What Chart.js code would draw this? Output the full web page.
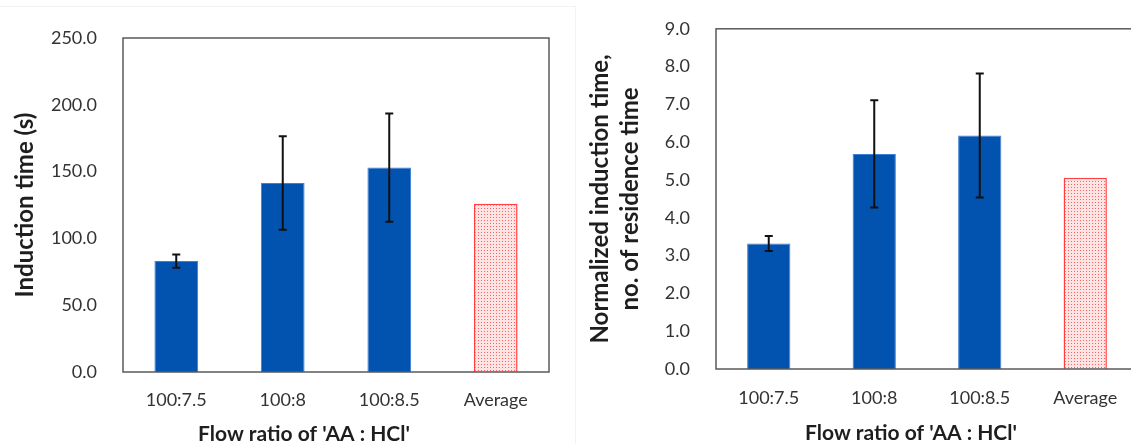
<!DOCTYPE html>
<html>
<head>
<meta charset="utf-8">
<script src="https://cdn.jsdelivr.net/npm/chart.js@4"></script>
<style>
  html, body { margin: 0; padding: 0; background: #fff; }
  body { width: 1131px; height: 444px; position: relative; overflow: hidden; }
  #painelA { position: absolute; left: 0; top: 6px; width: 575px; height: 438px;
             border-top: 1px solid #f3f3f3; border-right: 1px solid #f3f3f3; }
  #graficoA { position: absolute; left: 0; top: 0; }
  #graficoB { position: absolute; left: 575px; top: 0; }
</style>
</head>
<body>
<div id="painelA"></div>
<canvas id="graficoA" width="575" height="444"></canvas>
<canvas id="graficoB" width="570" height="444"></canvas>
<script>
const categorias = ['100:7.5', '100:8', '100:8.5', 'Average'];

// induction time (s) and standard deviation
const tempoInducao = [83, 141.5, 153, 126];
const erroInducao = [5, 35, 40.5, null];

// induction time normalised by residence time
const tempoNormalizado = [3.32, 5.69, 6.18, 5.06];
const erroNormalizado = [0.2, 1.42, 1.64, null];

const tituloEixoX = "Flow ratio of 'AA : HCl'";

const azul = '#0253B0';
const vermelho = '#ff4040';
const fonte = "Lato, 'Open Sans', sans-serif";

function padraoPontilhado() {
    const tile = document.createElement('canvas');
    tile.width = 3;
    tile.height = 3;
    const c = tile.getContext('2d');
    c.fillStyle = '#ffe4e4';
    c.fillRect(0, 0, 3, 3);
    c.fillStyle = 'rgba(255, 80, 80, 0.9)';
    c.fillRect(1, 1, 1, 1);
    return c.createPattern(tile, 'repeat');
}

// frame round the plot area
const moldura = {
    id: 'moldura',
    afterDatasetsDraw(chart) {
        const { ctx, chartArea: a } = chart;
        ctx.save();
        ctx.strokeStyle = '#5a5a5a';
        ctx.lineWidth = 1.5;
        ctx.strokeRect(a.left, a.top, a.right - a.left, a.bottom - a.top);
        ctx.restore();
    }
};

const barrasErro = {
    id: 'barrasErro',
    afterDatasetsDraw(chart, args, opts) {
        const { ctx } = chart;
        const y = chart.scales.y;
        const meta = chart.getDatasetMeta(0);
        const valores = chart.data.datasets[0].data;
        ctx.save();
        ctx.strokeStyle = '#111';
        ctx.lineWidth = 2;
        opts.erros.forEach((e, i) => {
            if (e == null) return;
            const x = meta.data[i].x;
            const topo = y.getPixelForValue(valores[i] + e);
            const base = y.getPixelForValue(valores[i] - e);
            ctx.beginPath();
            ctx.moveTo(x, topo);
            ctx.lineTo(x, base);
            ctx.moveTo(x - 4, topo);
            ctx.lineTo(x + 4, topo);
            ctx.moveTo(x - 4, base);
            ctx.lineTo(x + 4, base);
            ctx.stroke();
        });
        ctx.restore();
    }
};

// x axis title, placed a bit left of the plot centre
const tituloX = {
    id: 'tituloX',
    afterDraw(chart, args, opts) {
        const { ctx, chartArea: a } = chart;
        ctx.save();
        ctx.font = 'bold 21px ' + fonte;
        ctx.fillStyle = '#1e1e1e';
        ctx.textAlign = 'center';
        ctx.textBaseline = 'middle';
        ctx.fillText(opts.texto, (a.left + a.right) / 2 + opts.desvio, opts.y);
        ctx.restore();
    }
};

function criarGrafico(canvas, cfg) {
    const padrao = padraoPontilhado();
    return new Chart(canvas, {
        type: 'bar',
        data: {
            labels: categorias,
            datasets: [{
                data: cfg.valores,
                backgroundColor: [azul, azul, azul, padrao],
                borderColor: ['#3f7fd4', '#3f7fd4', '#3f7fd4', vermelho],
                borderWidth: [1, 1, 1, 1.5],
                barPercentage: 0.41,
                categoryPercentage: 1
            }]
        },
        options: {
            responsive: false,
            animation: false,
            events: [],
            layout: { padding: cfg.margem },
            plugins: {
                legend: { display: false },
                tooltip: { enabled: false },
                barrasErro: { erros: cfg.erros },
                tituloX: { texto: tituloEixoX, desvio: cfg.desvioX, y: cfg.yTituloX }
            },
            scales: {
                x: {
                    grid: { display: false },
                    border: { display: false },
                    ticks: {
                        color: '#333',
                        padding: cfg.padX,
                        font: { family: fonte, size: 18 }
                    },
                    afterFit: s => { s.height = cfg.alturaX; }
                },
                y: {
                    min: 0,
                    max: cfg.max,
                    grid: { display: false },
                    border: { display: false },
                    ticks: {
                        stepSize: cfg.passo,
                        color: '#333',
                        padding: 18,
                        font: { family: fonte, size: 18 },
                        callback: v => v.toFixed(1)
                    },
                    title: {
                        display: true,
                        text: cfg.tituloY,
                        color: '#1e1e1e',
                        font: { family: fonte, size: 24, weight: 'bold', lineHeight: 1.25 },
                        padding: { top: 10, bottom: 0 }
                    },
                    afterFit: s => { s.width = cfg.larguraY; }
                }
            }
        },
        plugins: [moldura, barrasErro, tituloX]
    });
}

criarGrafico(document.getElementById('graficoA'), {
    valores: tempoInducao,
    erros: erroInducao,
    max: 250,
    passo: 50,
    tituloY: 'Induction time (s)',
    larguraY: 123,
    alturaX: 72,
    padX: 9,
    desvioX: -32,
    yTituloX: 434,
    margem: { top: 38, right: 26, bottom: 0, left: 0 }
});

criarGrafico(document.getElementById('graficoB'), {
    valores: tempoNormalizado,
    erros: erroNormalizado,
    max: 9,
    passo: 1,
    tituloY: ['Normalized induction time,', 'no. of residence time'],
    larguraY: 141,
    alturaX: 75,
    padX: 10,
    desvioX: -16,
    yTituloX: 433,
    margem: { top: 25, right: 7, bottom: 0, left: 0 }
});
</script>
</body>
</html>
